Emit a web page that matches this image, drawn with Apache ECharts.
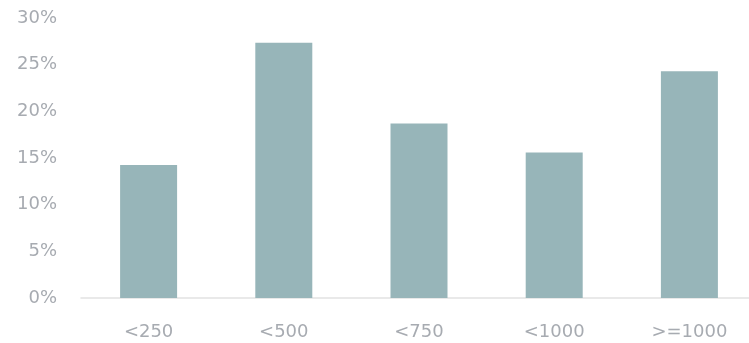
<!DOCTYPE html>
<html>
<head>
<meta charset="utf-8">
<style>
  html, body { margin: 0; padding: 0; background: #ffffff; }
  #chart { width: 749px; height: 343px; }
</style>
<script src="https://cdn.jsdelivr.net/npm/echarts@6/dist/echarts.min.js"></script>
</head>
<body>
<div id="chart"></div>
<script>
// Share of items in each size band (percent)
const categories = ['<250', '<500', '<750', '<1000', '>=1000'];
const shares = [14.25, 27.35, 18.7, 15.6, 24.3];
const yTicks = { min: 0, max: 30, interval: 5 };

const chart = echarts.init(document.getElementById('chart'), null, { renderer: 'canvas' });

const labelFont = {
  color: '#a7abb1',
  fontFamily: '"DejaVu Sans", sans-serif',
  fontWeight: 'normal',
  fontSize: 18
};

chart.setOption({
  animation: false,
  // the last band runs a little past the right edge of the canvas
  grid: {
    left: 81, top: 18, width: 676, bottom: 45,
    containLabel: false,
    outerBoundsMode: 'none'
  },
  xAxis: {
    type: 'category',
    data: categories,
    axisLine: { show: true, lineStyle: { color: '#e2e2e2', width: 1.5 } },
    axisTick: { show: false },
    axisLabel: Object.assign({ margin: 25 }, labelFont)
  },
  yAxis: {
    type: 'value',
    min: yTicks.min,
    max: yTicks.max,
    interval: yTicks.interval,
    splitLine: { show: false },
    axisLine: { show: false },
    axisTick: { show: false },
    axisLabel: Object.assign({ margin: 24, formatter: '{value}%' }, labelFont)
  },
  series: [{
    type: 'bar',
    data: shares,
    barWidth: 57,
    itemStyle: { color: '#97b5b9' }
  }]
});
</script>
</body>
</html>
